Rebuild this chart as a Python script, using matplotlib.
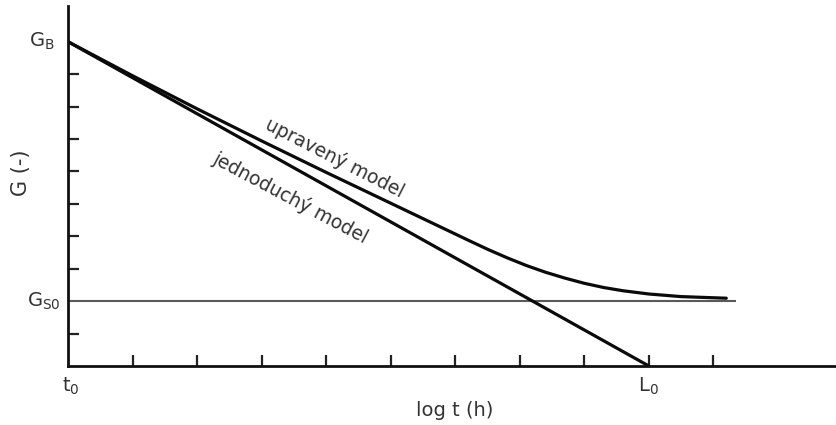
import matplotlib
matplotlib.use("Agg")
import matplotlib.pyplot as plt

plt.rcParams['font.family'] = ['DejaVu Sans']
plt.rcParams['mathtext.fontset'] = 'dejavusans'

# log t axis (in tick units) and G axis (in tick units)
x_ticks = [1, 2, 3, 4, 5, 6, 7, 8, 9, 10]
y_ticks = [1, 3, 4, 5, 6, 7, 8, 9]
G_B = 10.0
G_S0 = 2.0
L_0 = 9.0

# simple model: straight line from G_B at t0 to zero at L0
simple_x = [0.0, L_0]
simple_y = [G_B, 0.0]

# modified model: bends over towards the G_S0 plateau
mod_x = [0.0, 1.0, 2.0, 3.0, 4.0, 5.0, 5.6, 6.2, 6.5, 6.8, 7.1, 7.4, 7.7, 8.0, 8.3, 8.6, 9.0, 9.5, 10.2]
mod_y = [10.0, 8.95, 7.93, 6.94, 5.97, 5.02, 4.45, 3.88, 3.60, 3.34, 3.10, 2.89, 2.71, 2.55, 2.42, 2.32, 2.22, 2.14, 2.09]

plateau_x = [0.0, 10.35]
plateau_y = [G_S0, G_S0]

fig = plt.figure(figsize=(8.36, 4.25), dpi=100)
ax = fig.add_axes([68/836, 59/425, 1 - 68/836, 360/425])
ax.set_xlim(0, 11.9)
ax.set_ylim(0, 11.1)

for s in ['top', 'right']:
    ax.spines[s].set_visible(False)
for s in ['left', 'bottom']:
    ax.spines[s].set_linewidth(2.0)
    ax.spines[s].set_color('#111111')

ax.set_xticks(x_ticks)
ax.set_yticks(y_ticks)
ax.set_xticklabels([])
ax.set_yticklabels([])
ax.tick_params(axis='both', direction='in', length=8, width=1.6, color='#222222')

ax.plot(plateau_x, plateau_y, color='#5a5a5a', lw=1.5, solid_capstyle='butt')
ax.plot(simple_x, simple_y, color='#0a0a0a', lw=2.3, solid_capstyle='round')
ax.plot(mod_x, mod_y, color='#0a0a0a', lw=2.3, solid_capstyle='round', solid_joinstyle='round')

txt = '#333333'
ax.text(-0.2, G_B, r'$\mathregular{G_B}$', ha='right', va='center', fontsize=14, color=txt)
ax.text(-0.12, G_S0, r'$\mathregular{G_{S0}}$', ha='right', va='center', fontsize=14, color=txt)
ax.text(0.05, -0.3, r'$\mathregular{t_0}$', ha='center', va='top', fontsize=14, color=txt)
ax.text(L_0, -0.3, r'$\mathregular{L_0}$', ha='center', va='top', fontsize=14, color=txt)
fig.text(455/836, 1 - 410/425, 'log t (h)', ha='center', va='center', fontsize=14, color=txt)
fig.text(21/836, 1 - 173/425, 'G (-)', rotation=90, ha='center', va='center', fontsize=15, color=txt)

ax.text(4.13, 6.42, 'upravený model', rotation=-27, ha='center', va='center', fontsize=13.5, color=txt)
ax.text(3.44, 5.2, 'jednoduchý model', rotation=-28, ha='center', va='center', fontsize=13.5, color=txt)

fig.savefig('out.png', dpi=100, facecolor='white')
